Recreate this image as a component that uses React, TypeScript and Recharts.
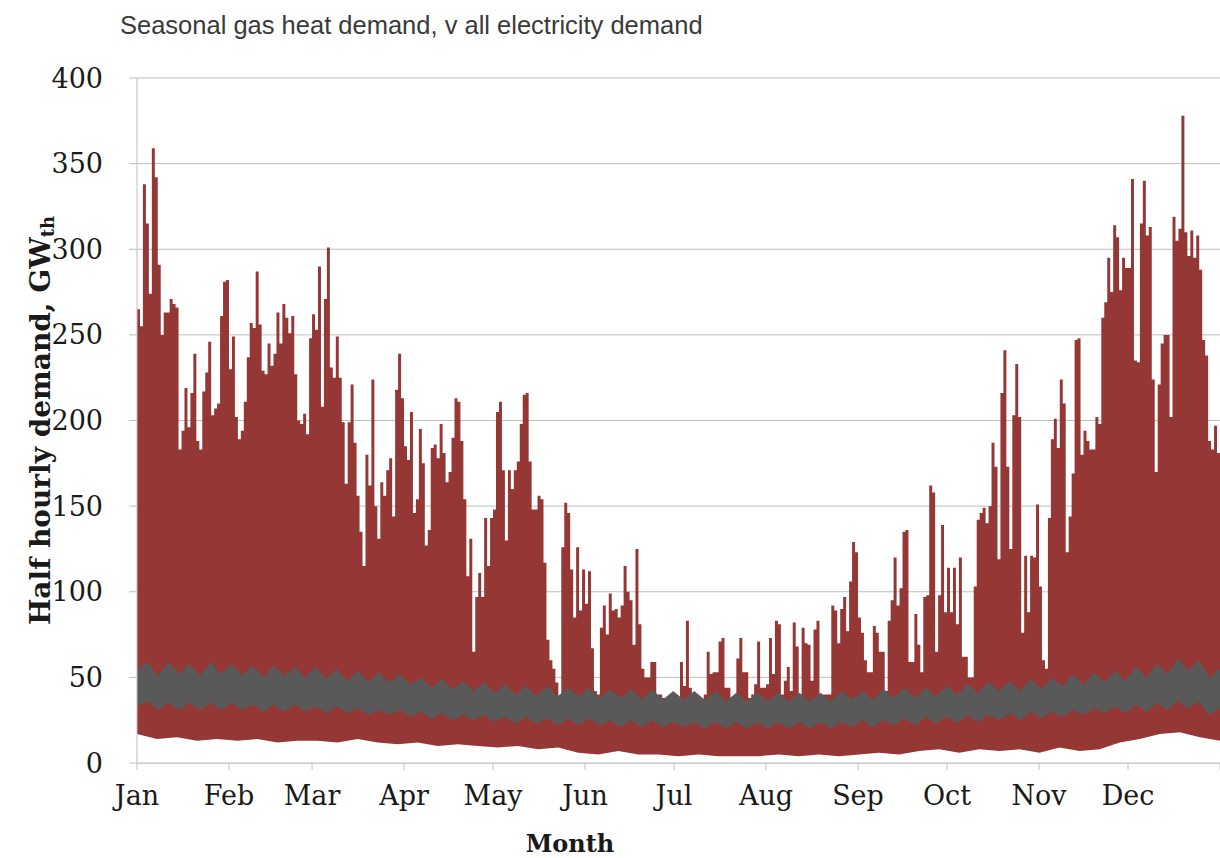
import React from 'react';
import { ComposedChart, Area, XAxis, YAxis, CartesianGrid, Label } from 'recharts';

const months = ['Jan', 'Feb', 'Mar', 'Apr', 'May', 'Jun', 'Jul', 'Aug', 'Sep', 'Oct', 'Nov', 'Dec'];
const monthStarts = [0, 31, 59, 90, 120, 151, 181, 212, 243, 273, 304, 334, 365];
const yTicks = [0, 50, 100, 150, 200, 250, 300, 350, 400];

// daily peak of half hourly gas heat demand, GW_th
const gasJan = [265, 255, 338, 315, 274, 359, 342, 291, 250, 263, 263, 271, 268, 266, 183, 194, 219, 196, 216, 239, 188, 183, 217, 228, 246, 203, 207, 210, 261, 281, 282];
const gasFeb = [230, 249, 202, 189, 194, 211, 237, 257, 254, 287, 256, 229, 227, 245, 232, 239, 263, 245, 268, 260, 251, 261, 227, 200, 198, 204, 192, 248];
const gasMar = [262, 253, 290, 208, 271, 301, 231, 225, 249, 225, 199, 163, 199, 221, 187, 156, 135, 115, 180, 162, 224, 150, 131, 164, 156, 171, 178, 144, 218, 239, 213];
const gasApr = [185, 177, 205, 146, 154, 195, 175, 127, 136, 184, 186, 178, 198, 181, 164, 170, 190, 213, 211, 188, 154, 109, 131, 65, 97, 111, 97, 143, 115, 143];
const gasMay = [148, 205, 211, 171, 130, 171, 160, 171, 176, 198, 215, 216, 176, 148, 148, 156, 154, 117, 72, 60, 55, 47, 38, 126, 152, 146, 113, 85, 126, 89, 113];
const gasJun = [93, 112, 67, 42, 40, 79, 92, 75, 99, 89, 90, 85, 92, 115, 100, 95, 69, 125, 81, 55, 50, 50, 59, 59, 40, 40, 38, 38, 38, 38];
const gasJul = [38, 38, 59, 45, 83, 44, 38, 40, 38, 36, 40, 65, 52, 53, 53, 71, 73, 44, 44, 38, 38, 61, 73, 53, 53, 38, 40, 46, 71, 44, 44];
const gasAug = [46, 73, 52, 83, 81, 40, 48, 56, 42, 82, 68, 40, 79, 70, 69, 48, 78, 83, 40, 40, 40, 40, 92, 89, 70, 90, 97, 77, 106, 129, 123];
const gasSep = [85, 76, 60, 53, 53, 80, 76, 65, 65, 42, 83, 95, 120, 92, 102, 135, 136, 59, 59, 87, 69, 53, 97, 98, 162, 158, 65, 98, 139, 88];
const gasOct = [114, 88, 114, 81, 120, 62, 62, 50, 50, 103, 142, 146, 149, 140, 150, 187, 173, 119, 216, 241, 173, 125, 203, 233, 202, 76, 121, 88, 121, 120, 151];
const gasNov = [103, 60, 55, 143, 189, 201, 184, 224, 210, 123, 144, 169, 247, 248, 180, 194, 188, 183, 183, 202, 198, 260, 269, 295, 275, 314, 307, 276, 295, 289];
const gasDec = [289, 341, 235, 234, 315, 340, 308, 313, 224, 170, 221, 245, 250, 250, 202, 319, 305, 312, 378, 310, 296, 311, 295, 308, 288, 247, 238, 188, 183, 197, 181];

// overnight gas minimum, roughly weekly
const gasFloor = [17, 14, 15, 13, 14, 13, 14, 12, 13, 13, 12, 14, 12, 11, 12, 10, 11, 10, 9, 10, 8, 9, 6, 5, 7, 5, 5, 4, 5, 4, 4, 4, 5, 4, 5, 4, 5, 6, 5, 7, 8, 6, 8, 7, 8, 6, 9, 7, 8, 12, 14, 17, 18, 15, 13];

// electricity demand band, twice a week (weekday high / weekend low)
const elecHigh = [
  55, 59, 51, 59, 52, 58, 51, 59, 52,
  58, 51, 57, 50, 57, 51, 56, 50,
  56, 49, 55, 48, 54, 47, 53, 47, 52,
  46, 50, 44, 49, 43, 48, 42, 47,
  41, 46, 40, 45, 39, 45, 39, 44, 39,
  44, 38, 43, 38, 43, 37, 43, 37,
  42, 37, 42, 37, 42, 36, 41, 36, 41,
  36, 41, 36, 41, 36, 41, 36, 42, 37,
  42, 37, 43, 38, 44, 38, 44, 39,
  45, 40, 46, 41, 47, 42, 48, 42, 49,
  43, 50, 45, 52, 46, 53, 47, 54,
  48, 56, 50, 58, 52, 61, 54, 60, 50, 55,
];
const elecLow = [
  33, 36, 31, 35, 31, 35, 31, 35, 31,
  35, 31, 34, 30, 34, 30, 34, 30,
  33, 29, 33, 29, 32, 28, 31, 28, 31,
  27, 30, 26, 29, 25, 28, 25, 28,
  24, 27, 23, 27, 23, 26, 22, 26, 22,
  26, 22, 25, 21, 25, 21, 25, 21,
  24, 21, 24, 20, 24, 20, 24, 20, 24,
  20, 24, 20, 24, 20, 24, 20, 24, 21,
  25, 21, 25, 22, 26, 22, 27, 23,
  27, 23, 28, 24, 28, 25, 29, 25, 30,
  26, 30, 27, 31, 28, 32, 29, 33,
  29, 34, 30, 35, 31, 36, 32, 36, 28, 32,
];

const gasPeak = [
  ...gasJan, ...gasFeb, ...gasMar, ...gasApr, ...gasMay, ...gasJun,
  ...gasJul, ...gasAug, ...gasSep, ...gasOct, ...gasNov, ...gasDec,
];

const peakData = gasPeak.map((v, i) => ({ day: i, peak: v }));
peakData.push({ day: gasPeak.length, peak: gasPeak[gasPeak.length - 1] }); // close the last step
const floorData = gasFloor.map((v, i) => ({ day: (i * 365) / (gasFloor.length - 1), floor: v }));
const elecData = elecHigh.map((v, i) => ({ day: (i * 365) / (elecHigh.length - 1), band: [elecLow[i], v] }));

const RED = '#953735';
const GREY = '#595959';
const AXIS = '#bfbfbf';
const tickFont = { fontFamily: 'DejaVu Serif', fontSize: 27, fill: '#1a1a1a' };

function YTitle({ viewBox }: any) {
  const cx = viewBox.x + 40;
  const cy = viewBox.y + viewBox.height / 2;
  return (
    <text
      x={cx}
      y={cy}
      transform={`rotate(-90, ${cx}, ${cy})`}
      textAnchor="middle"
      dominantBaseline="central"
      fontFamily="DejaVu Serif"
      fontWeight="bold"
      fontSize={28}
      fill="#1a1a1a"
    >
      Half hourly demand, GW
      <tspan fontSize={18} dy={7}>th</tspan>
    </text>
  );
}

function XTitle({ viewBox }: any) {
  return (
    <text
      x={viewBox.x + 433}
      y={viewBox.y + 80}
      textAnchor="middle"
      dominantBaseline="central"
      fontFamily="DejaVu Serif"
      fontWeight="bold"
      fontSize={24}
      fill="#1a1a1a"
    >
      Month
    </text>
  );
}

export default function App() {
  return (
    <div style={{ position: 'absolute', left: 0, top: 0, width: 1220, height: 858, background: '#fff' }}>
      <div
        style={{
          position: 'absolute',
          left: 120,
          top: 11,
          fontFamily: '"Liberation Sans", Arial, sans-serif',
          fontSize: 25.5,
          color: '#3a3a3a',
          whiteSpace: 'nowrap',
        }}
      >
        Seasonal gas heat demand, v all electricity demand
      </div>
      <ComposedChart width={1220} height={858} margin={{ top: 78, right: 0, bottom: 0, left: 0 }}>
        <CartesianGrid vertical={false} stroke={AXIS} />
        <Area
          data={peakData}
          dataKey="peak"
          type="stepAfter"
          fill={RED}
          fillOpacity={1}
          stroke="none"
          dot={false}
          activeDot={false}
          isAnimationActive={false}
        />
        <Area
          data={floorData}
          dataKey="floor"
          type="linear"
          fill="#ffffff"
          fillOpacity={1}
          stroke="none"
          dot={false}
          activeDot={false}
          isAnimationActive={false}
        />
        <Area
          data={elecData}
          dataKey="band"
          type="linear"
          fill={GREY}
          fillOpacity={1}
          stroke="none"
          dot={false}
          activeDot={false}
          isAnimationActive={false}
        />
        <XAxis
          type="number"
          dataKey="day"
          domain={[0, 365]}
          ticks={monthStarts}
          tickFormatter={(d: number) => months[monthStarts.indexOf(d)] ?? ''}
          interval={0}
          height={95}
          stroke={AXIS}
          tickSize={7}
          tickMargin={16}
          tick={tickFont}
        >
          <Label content={XTitle} />
        </XAxis>
        <YAxis
          type="number"
          domain={[0, 400]}
          ticks={yTicks}
          interval={0}
          width={137}
          stroke={AXIS}
          tickSize={8}
          tickMargin={26}
          tick={tickFont}
        >
          <Label content={YTitle} />
        </YAxis>
      </ComposedChart>
    </div>
  );
}
